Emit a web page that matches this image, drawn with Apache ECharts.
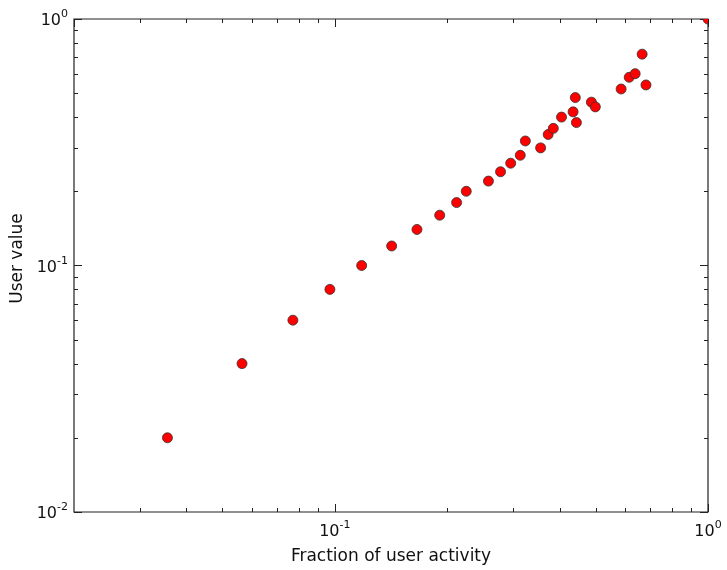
<!DOCTYPE html>
<html>
<head>
<meta charset="utf-8">
<script src="https://cdn.jsdelivr.net/npm/echarts@6/dist/echarts.min.js"></script>
<style>
  html, body { margin: 0; padding: 0; background: #fff; }
  #chart { width: 727px; height: 570px; }
</style>
</head>
<body>
<div id="chart"></div>
<script>
// Fraction of user activity (x) against user value (y)
var activity = [0.0356, 0.0564, 0.0772, 0.097, 0.118, 0.142, 0.166, 0.191, 0.212, 0.225,
                0.258, 0.278, 0.296, 0.314, 0.324, 0.356, 0.373, 0.385, 0.405, 0.435,
                0.441, 0.444, 0.487, 0.499, 0.585, 0.615, 0.638, 0.666, 0.682, 1.0];
var userValue = [0.02, 0.04, 0.06, 0.08, 0.10, 0.12, 0.14, 0.16, 0.18, 0.20,
                 0.22, 0.24, 0.26, 0.28, 0.32, 0.30, 0.34, 0.36, 0.40, 0.42,
                 0.48, 0.38, 0.46, 0.44, 0.52, 0.58, 0.60, 0.72, 0.54, 1.0];

var xRange = [0.02, 1];
var yRange = [0.01, 1];
var xLabel = 'Fraction of user activity';
var yLabel = 'User value';

var points = activity.map(function (x, i) { return [x, userValue[i]]; });

var FONT = 'DejaVu Sans';
var INK = '#222';
var MARKER_R = 5;

function powLabel(v) {
  var e = Math.round(Math.log10(v));
  if (Math.abs(Math.log10(v) - e) > 1e-6) return '';
  return '{b|10}{s|' + e + '}';
}
var labelRich = {
  b: { fontFamily: FONT, fontSize: 16, color: '#111', verticalAlign: 'bottom' },
  s: { fontFamily: FONT, fontSize: 11, color: '#111', verticalAlign: 'bottom', padding: [0, 0, 9, 0] }
};

function logAxis(pos, range, extra) {
  var ax = {
    type: 'log',
    logBase: 10,
    min: range[0],
    max: range[1],
    position: pos,
    splitLine: { show: false },
    axisLine: { show: false },
    axisTick: { show: true, inside: true, length: 8, lineStyle: { color: INK, width: 1 } },
    axisLabel: { show: false }
  };
  for (var k in extra) ax[k] = extra[k];
  return ax;
}

// Minor tick values 2..9 x 10^k inside a range
function minorValues(range) {
  var out = [];
  var lo = Math.floor(Math.log10(range[0])), hi = Math.ceil(Math.log10(range[1]));
  for (var k = lo; k < hi; k++) {
    for (var m = 2; m <= 9; m++) {
      var v = m * Math.pow(10, k);
      if (v > range[0] * 1.0001 && v < range[1] * 0.9999) out.push(v);
    }
  }
  return out;
}
var MINOR_LEN = 4;

// Short tick pairs drawn through the axis scale (bottom+top for x, left+right for y)
function minorTickSeries(dim, values) {
  return {
    type: 'custom',
    xAxisIndex: 0,
    yAxisIndex: 0,
    silent: true,
    clip: false,
    z: 1,
    data: values.map(function (v) { return [v]; }),
    renderItem: function (params, api) {
      var v = api.value(0);
      var style = { stroke: INK, lineWidth: 1 };
      var a, b;
      if (dim === 'x') {
        a = api.coord([v, yRange[0]]);
        b = api.coord([v, yRange[1]]);
        var x = Math.round(a[0]) + 0.5;
        return { type: 'group', children: [
          { type: 'line', shape: { x1: x, y1: a[1], x2: x, y2: a[1] - MINOR_LEN }, style: style },
          { type: 'line', shape: { x1: x, y1: b[1], x2: x, y2: b[1] + MINOR_LEN }, style: style }
        ] };
      }
      a = api.coord([xRange[0], v]);
      b = api.coord([xRange[1], v]);
      var y = Math.round(a[1]) + 0.5;
      return { type: 'group', children: [
        { type: 'line', shape: { x1: a[0], y1: y, x2: a[0] + MINOR_LEN, y2: y }, style: style },
        { type: 'line', shape: { x1: b[0], y1: y, x2: b[0] - MINOR_LEN, y2: y }, style: style }
      ] };
    }
  };
}

var chart = echarts.init(document.getElementById('chart'), null, { renderer: 'canvas' });

chart.setOption({
  animation: false,
  backgroundColor: '#fff',
  grid: {
    left: 74, right: 19, top: 19, bottom: 58,
    outerBoundsMode: 'none', containLabel: false,
    show: true, borderColor: INK, borderWidth: 1.2, backgroundColor: 'transparent'
  },
  xAxis: [
    logAxis('bottom', xRange, {
      name: xLabel, nameLocation: 'middle', nameGap: 36,
      nameTextStyle: { fontFamily: FONT, fontSize: 17, color: '#111' },
      axisLabel: { show: true, margin: 8, formatter: powLabel, rich: labelRich, showMinLabel: false }
    }),
    logAxis('top', xRange, {})
  ],
  yAxis: [
    logAxis('left', yRange, {
      name: yLabel, nameLocation: 'middle', nameGap: 47,
      nameTextStyle: { fontFamily: FONT, fontSize: 17, color: '#111', padding: [0, 0, 0, 14] },
      axisLabel: { show: true, margin: 6, formatter: powLabel, rich: labelRich }
    }),
    logAxis('right', yRange, {})
  ],
  series: [
    minorTickSeries('x', minorValues(xRange)),
    minorTickSeries('y', minorValues(yRange)),
    {
      // red markers, clipped to the plot frame
      type: 'custom',
      xAxisIndex: 0,
      yAxisIndex: 0,
      clip: true,
      z: 3,
      data: points,
      renderItem: function (params, api) {
        var c = api.coord([api.value(0), api.value(1)]);
        return {
          type: 'circle',
          shape: { cx: c[0], cy: c[1], r: MARKER_R },
          style: { fill: '#ff0000', stroke: '#333', lineWidth: 0.8 }
        };
      }
    }
  ]
});
</script>
</body>
</html>
